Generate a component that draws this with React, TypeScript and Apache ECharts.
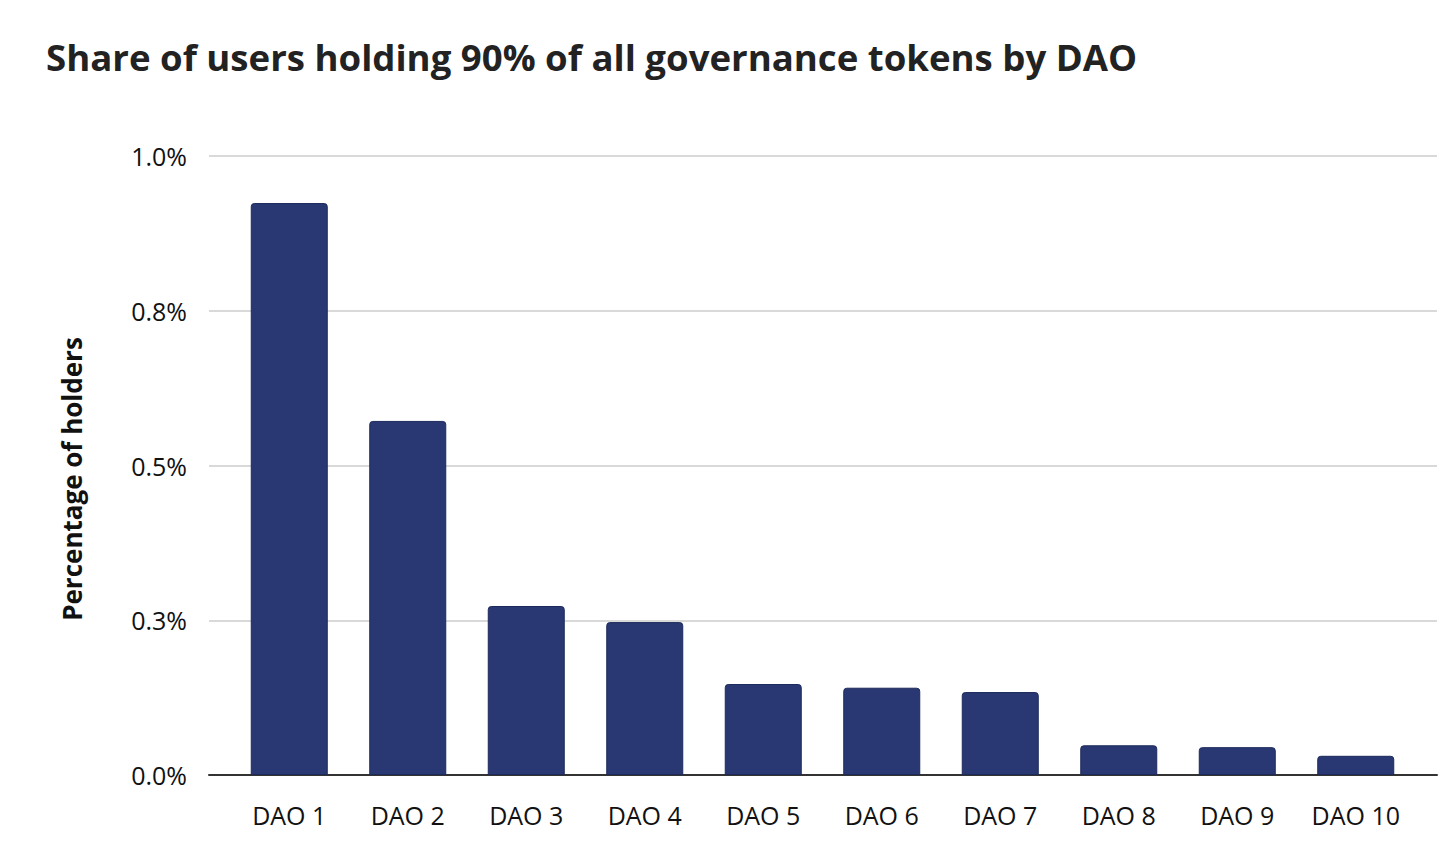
import React, { useEffect, useRef } from "react";
import * as echarts from "echarts";

const title = "Share of users holding 90% of all governance tokens by DAO";
const yAxisTitle = "Percentage of holders";
const categories = ["DAO 1", "DAO 2", "DAO 3", "DAO 4", "DAO 5", "DAO 6", "DAO 7", "DAO 8", "DAO 9", "DAO 10"];
const values = [0.924, 0.572, 0.273, 0.247, 0.147, 0.141, 0.134, 0.048, 0.045, 0.031];
const yTicks = [0, 0.25, 0.5, 0.75, 1.0];

const FONT = "'Open Sans', 'Noto Sans', sans-serif";

export default function App() {
  const ref = useRef<HTMLDivElement>(null);
  useEffect(() => {
    const chart = echarts.init(ref.current!, null, { renderer: "svg" });
    const yMin = yTicks[0];
    const yMax = yTicks[yTicks.length - 1];
    const interval = yTicks[1] - yTicks[0];
    chart.setOption({
      animation: false,
      backgroundColor: "#ffffff",
      title: {
        text: title,
        left: 33,
        top: 25,
        textStyle: { fontFamily: FONT, fontWeight: "bold", fontSize: 36.6, color: "#222222" },
      },
      graphic: [
        {
          type: "text",
          x: 64,
          y: 471,
          rotation: Math.PI / 2,
          style: {
            text: yAxisTitle,
            fontFamily: FONT,
            fontWeight: "bold",
            fontSize: 26,
            fill: "#111111",
            align: "center",
            verticalAlign: "middle",
          },
        },
      ],
      grid: [
        { left: 222, right: 33, top: 148, bottom: 82, containLabel: false },
        { left: 201, right: 11, top: 148, bottom: 82, containLabel: false },
      ],
      xAxis: [
        {
          type: "category",
          gridIndex: 0,
          data: categories,
          axisLine: { show: false },
          axisTick: { show: false },
          axisLabel: { fontFamily: FONT, fontSize: 25, color: "#111111", margin: 27 },
        },
        {
          type: "value",
          gridIndex: 1,
          min: 0,
          max: 1,
          axisLine: { show: true, onZero: false, lineStyle: { color: "#333333", width: 2 } },
          axisTick: { show: false },
          axisLabel: { show: false },
          splitLine: { show: false },
        },
      ],
      yAxis: [
        {
          type: "value",
          gridIndex: 0,
          min: yMin,
          max: yMax,
          interval,
          axisLine: { show: false },
          axisTick: { show: false },
          axisLabel: { show: false },
          splitLine: { show: false },
        },
        {
          type: "value",
          gridIndex: 1,
          min: yMin,
          max: yMax,
          interval,
          axisLine: { show: false },
          axisTick: { show: false },
          axisLabel: {
            fontFamily: FONT,
            fontSize: 25,
            color: "#111111",
            margin: 22,
            formatter: (v: number) => (Math.round(v * 10) / 10).toFixed(1) + "%",
          },
          splitLine: { show: true, lineStyle: { color: "#cccccc", width: 1.5 } },
        },
      ],
      series: [
        {
          type: "bar",
          xAxisIndex: 0,
          yAxisIndex: 0,
          data: values,
          barWidth: 77,
          z: 5,
          itemStyle: {
            color: "#293872",
            borderColor: "#1c2a5c",
            borderWidth: 1,
            borderRadius: [3, 3, 0, 0],
          },
        },
      ],
    });
    return () => chart.dispose();
  }, []);
  return <div ref={ref} style={{ width: 1440, height: 849 }} />;
}
